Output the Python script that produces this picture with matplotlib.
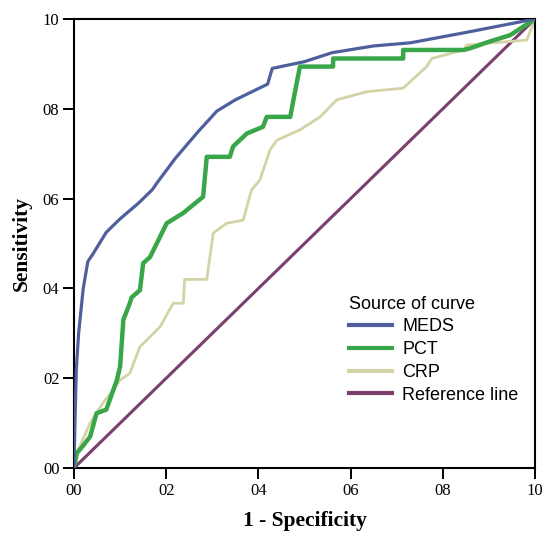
import matplotlib
matplotlib.use("Agg")
import matplotlib.pyplot as plt

# ROC curves
meds_x = [0, 0.002, 0.005, 0.01, 0.02, 0.03, 0.04, 0.055, 0.07, 0.1, 0.14, 0.17, 0.18, 0.22,
          0.27, 0.31, 0.35, 0.42, 0.43, 0.5, 0.56, 0.65, 0.73, 0.85, 1.0]
meds_y = [0, 0.1, 0.22, 0.3, 0.4, 0.46, 0.475, 0.5, 0.525, 0.555, 0.59, 0.62, 0.635, 0.69,
          0.75, 0.795, 0.82, 0.855, 0.89, 0.905, 0.925, 0.94, 0.947, 0.97, 1.0]

pct_x = [0, 0.006, 0.02, 0.035, 0.049, 0.07, 0.093, 0.1, 0.107, 0.121, 0.125, 0.143, 0.15,
         0.165, 0.201, 0.237, 0.28, 0.288, 0.338, 0.345, 0.375, 0.41, 0.418, 0.469, 0.476,
         0.483, 0.49, 0.562, 0.562, 0.714, 0.714, 0.845, 0.86, 0.902, 0.946, 1.0]
pct_y = [0, 0.033, 0.05, 0.07, 0.122, 0.13, 0.196, 0.226, 0.33, 0.367, 0.38, 0.396, 0.456,
         0.47, 0.545, 0.568, 0.604, 0.693, 0.693, 0.716, 0.745, 0.76, 0.782, 0.782, 0.82,
         0.857, 0.894, 0.894, 0.912, 0.912, 0.931, 0.931, 0.935, 0.95, 0.964, 1.0]

crp_x = [0, 0.006, 0.035, 0.063, 0.085, 0.1, 0.121, 0.143, 0.165, 0.187, 0.215, 0.237, 0.24,
         0.288, 0.302, 0.331, 0.367, 0.385, 0.403, 0.425, 0.44, 0.49, 0.534, 0.57, 0.635,
         0.714, 0.765, 0.776, 0.845, 0.852, 0.982, 1.0]
crp_y = [0, 0.033, 0.1, 0.145, 0.174, 0.196, 0.211, 0.27, 0.292, 0.315, 0.367, 0.367, 0.42,
         0.42, 0.523, 0.545, 0.552, 0.619, 0.641, 0.708, 0.73, 0.753, 0.782, 0.82, 0.838,
         0.846, 0.894, 0.912, 0.931, 0.942, 0.953, 1.0]

ref_x = [0, 1]
ref_y = [0, 1]

ticks = [0, 0.2, 0.4, 0.6, 0.8, 1.0]
tick_labels = ["00", "02", "04", "06", "08", "10"]

fig = plt.figure(figsize=(5.45, 5.38), dpi=100)
ax = fig.add_axes([0.1358, 0.1301, 0.8459, 0.8346])

ax.plot(ref_x, ref_y, color="#7b3f6e", lw=2.2, label="Reference line", zorder=1)
ax.plot(crp_x, crp_y, color="#d3d3a6", lw=2.0, label="CRP", zorder=2)
ax.plot(pct_x, pct_y, color="#3aa64a", lw=3.2, label="PCT", zorder=3)
ax.plot(meds_x, meds_y, color="#4f5f9e", lw=2.3, label="MEDS", zorder=4)

ax.set_xlim(0, 1)
ax.set_ylim(0, 1)
ax.set_xticks(ticks)
ax.set_yticks(ticks)
ax.set_xticklabels(tick_labels, family="Liberation Serif", fontsize=12)
ax.set_yticklabels(tick_labels, family="Liberation Serif", fontsize=12)
ax.tick_params(direction="out", length=8, width=1.4, pad=2.5)
for s in ax.spines.values():
    s.set_linewidth(1.5)

ax.set_xlabel("1 - Specificity", family="Liberation Serif", fontweight="bold", fontsize=15.5, labelpad=9)
ax.set_ylabel("Sensitivity", family="Liberation Serif", fontweight="bold", fontsize=15.5, labelpad=8)

h, l = ax.get_legend_handles_labels()
order = [3, 2, 1, 0]
leg = ax.legend([h[i] for i in order], [l[i] for i in order], title="Source of curve",
                loc="upper left", bbox_to_anchor=(0.561, 0.42), frameon=False,
                prop={"family": "Liberation Sans", "size": 13},
                title_fontproperties={"family": "Liberation Sans", "size": 13},
                handlelength=2.4, handletextpad=0.55, labelspacing=0.32)
leg._legend_box.align = "left"
for ln in leg.get_lines():
    ln.set_linewidth(3)

fig.savefig("out.png", dpi=100)
